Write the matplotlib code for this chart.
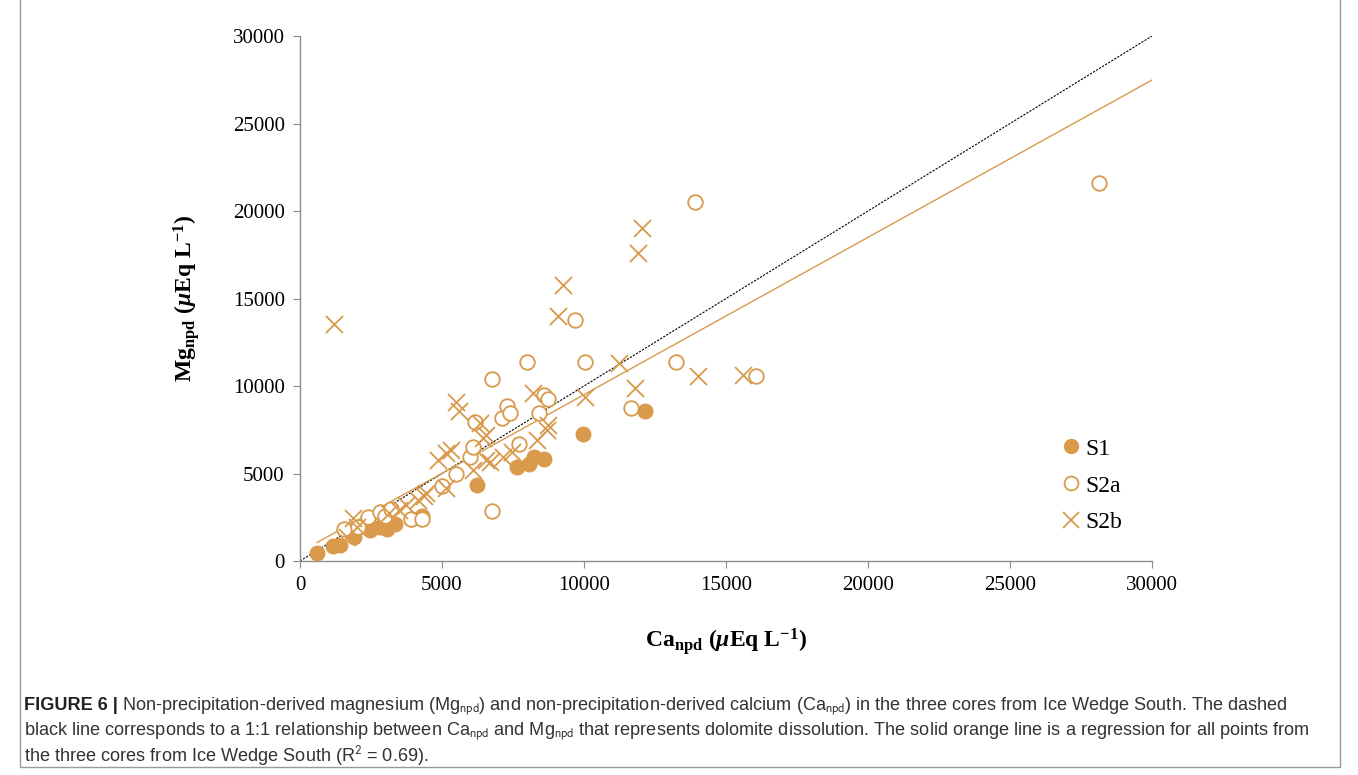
import matplotlib
matplotlib.use("Agg")
import matplotlib.pyplot as plt
from matplotlib.lines import Line2D
from matplotlib.patches import Rectangle

# values (uEq/L)
ca_s1 = [600, 1150, 1400, 1900, 2450, 2800, 3050, 3350, 3900, 4300,
         6250, 7650, 8050, 8250, 8600, 9950, 12150]
mg_s1 = [450, 850, 900, 1350, 1750, 1950, 1850, 2100, 2400, 2550,
         4350, 5400, 5550, 5950, 5850, 7250, 8550]

ca_s2a = [1550, 2050, 2400, 2800, 3000, 3200, 3900, 4300, 5000, 5500,
          6000, 6100, 6150, 6750, 6750, 7100, 7300, 7400, 7700, 8000,
          8400, 8600, 8750, 9700, 10050, 11650, 13250, 13900, 16050, 28150]
mg_s2a = [1850, 1950, 2500, 2800, 2550, 3000, 2400, 2400, 4300, 5000,
          5950, 6500, 7950, 10400, 2850, 8200, 8850, 8450, 6700, 11400,
          8450, 9500, 9250, 13800, 11400, 8750, 11400, 20500, 10550, 21600]

ca_s2b = [1200, 1650, 1850, 2000, 3150, 3500, 3750, 4150, 4350, 4450,
          4850, 5150, 5150, 5300, 5500, 5600, 6100, 6350, 6450, 6550,
          6550, 6700, 7150, 7450, 8200, 8350, 8700, 8750, 9100, 9250,
          10050, 11250, 11800, 11900, 12050, 14000, 15600]
mg_s2b = [13550, 1400, 2450, 1950, 2750, 2900, 3200, 3500, 3700, 3900,
          5750, 4150, 6150, 6350, 9100, 8600, 5200, 7900, 7050, 7200,
          5750, 5650, 5950, 6250, 9600, 6900, 7500, 7750, 14000, 15750,
          9350, 11300, 9900, 17600, 19050, 10550, 10650]

# regression (all points) as drawn in the figure
reg_x = [600, 30000]
reg_slope = 0.899
reg_icpt = 517

orange = "#D99A4B"
grey = "#8c8c8c"

plt.rcParams["mathtext.fontset"] = "custom"
plt.rcParams["mathtext.rm"] = "Liberation Serif"
plt.rcParams["mathtext.bf"] = "Liberation Serif:bold"
plt.rcParams["mathtext.it"] = "Liberation Serif:italic:bold"

fig = plt.figure(figsize=(13.58, 7.75), dpi=100)
ax = fig.add_axes([0.2209, 0.2761, 0.6274, 0.6774])

ax.plot([0, 30000], [0, 30000], color="black", lw=0.8, dashes=(2, 1.2), zorder=1)
ax.plot(reg_x, [reg_slope * x + reg_icpt for x in reg_x], color=orange, lw=1.0, zorder=1)

ax.scatter(ca_s1, mg_s1, s=110, color=orange, edgecolors=orange, zorder=3)
ax.scatter(ca_s2a, mg_s2a, s=110, facecolors="white", edgecolors=orange,
           linewidths=1.3, zorder=3)
ax.scatter(ca_s2b, mg_s2b, s=150, marker="x", color=orange, linewidths=1.3, zorder=3)

ax.set_xlim(0, 30000)
ax.set_ylim(0, 30000)
ax.set_xticks(range(0, 30001, 5000))
ax.set_yticks(range(0, 30001, 5000))
for sp in ["top", "right"]:
    ax.spines[sp].set_visible(False)
for sp in ["left", "bottom"]:
    ax.spines[sp].set_color(grey)
    ax.spines[sp].set_linewidth(1.0)
ax.tick_params(direction="out", length=5, color=grey, labelsize=15, pad=6)
for lab in ax.get_xticklabels() + ax.get_yticklabels():
    lab.set_fontfamily("Liberation Serif")

ax.set_xlabel(r"$\mathbf{Ca_{npd}}$ ($\mu$Eq L$^{\mathbf{-1}}$)", fontsize=17,
              fontweight="bold", family="Liberation Serif", labelpad=22)
ax.set_ylabel(r"$\mathbf{Mg_{npd}}$ ($\mu$Eq L$^{\mathbf{-1}}$)", fontsize=17,
              fontweight="bold", family="Liberation Serif", labelpad=22)

handles = [
    Line2D([], [], ls="", marker="o", ms=10, color=orange),
    Line2D([], [], ls="", marker="o", ms=10, mfc="white", mec=orange, mew=1.3),
    Line2D([], [], ls="", marker="x", ms=12, color=orange, mew=1.3),
]
ax.legend(handles, ["S1", "S2a", "S2b"], loc="lower right", bbox_to_anchor=(0.99, 0.012),
          frameon=False, prop={"family": "Liberation Serif", "size": 17},
          handletextpad=0.0, labelspacing=0.65, handlelength=1.2)

# caption
cap_font = ["Liberation Sans Narrow", "Liberation Sans"]
cap_col = "#333333"
cap_size = 13.1
fig.canvas.draw()
r = fig.canvas.get_renderer()
t0 = fig.text(24 / 1358, 1 - 706 / 775, "FIGURE 6 |", fontsize=cap_size, fontweight="bold",
              family=cap_font, color="#222222", va="center")
w = t0.get_window_extent(renderer=r).width
fig.text((24 + w + 4) / 1358, 1 - 706 / 775,
         "Non-precipitation-derived magnesium (Mg$_{\\mathrm{npd}}$) and non-precipitation-derived "
         "calcium (Ca$_{\\mathrm{npd}}$) in the three cores from Ice Wedge South. The dashed",
         fontsize=cap_size, family=cap_font, color=cap_col, va="center", math_fontfamily="stixsans")
fig.text(24 / 1358, 1 - 731 / 775,
         "black line corresponds to a 1:1 relationship between Ca$_{\\mathrm{npd}}$ and Mg$_{\\mathrm{npd}}$ "
         "that represents dolomite dissolution. The solid orange line is a regression for all points from",
         fontsize=cap_size, family=cap_font, color=cap_col, va="center", math_fontfamily="stixsans")
fig.text(24 / 1358, 1 - 756 / 775,
         "the three cores from Ice Wedge South (R$^{2}$ = 0.69).",
         fontsize=cap_size, family=cap_font, color=cap_col, va="center", math_fontfamily="stixsans")

# outer frame of the figure panel (top edge lies outside the picture)
fig.patches.append(Rectangle((20 / 1358, 1 - 767 / 775), 1320 / 1358, 1.05,
                             transform=fig.transFigure, fill=False, ec="#999999", lw=1.0))

fig.savefig("out.png", dpi=100)
